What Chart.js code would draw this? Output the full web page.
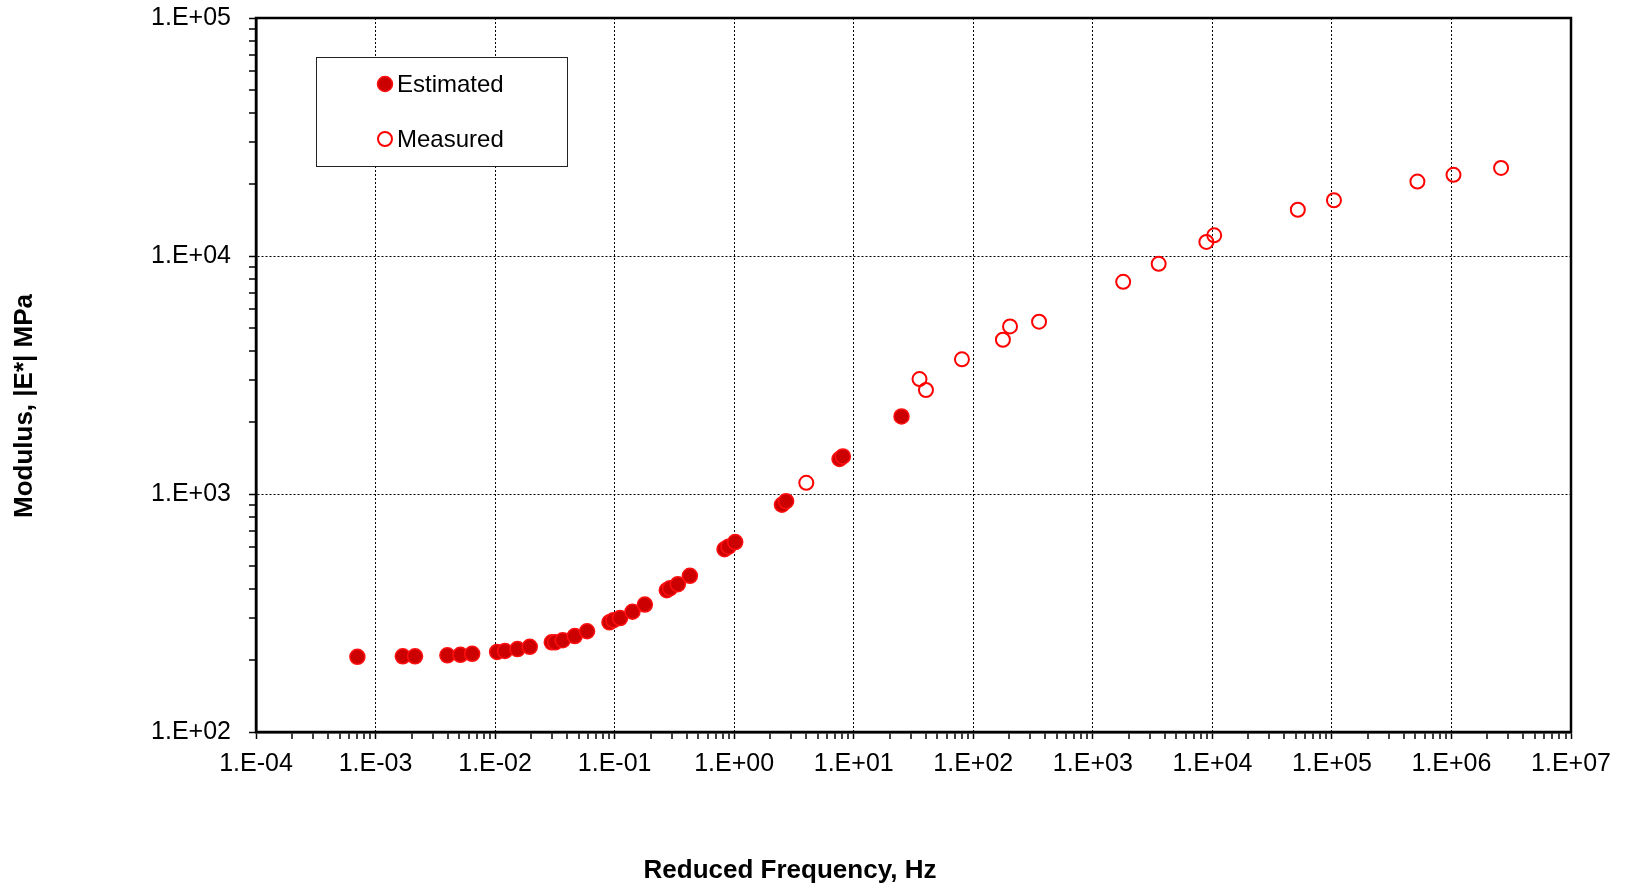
<!DOCTYPE html>
<html lang="en">
<head>
    <meta charset="UTF-8">
    <title>Dynamic Modulus Master Curve</title>
    <style>
        body {
            margin: 0;
            background: #fff;
        }
        #chartBox {
            width: 1630px;
            height: 888px;
        }
    </style>
    <script src="https://cdn.jsdelivr.net/npm/chart.js"></script>
</head>
<body>
    <div id="chartBox">
        <canvas id="modulusChart" width="1630" height="888"></canvas>
    </div>

    <script>
        // values
        const estFreq = [7.05e-4, 1.69e-3, 2.14e-3, 3.99e-3, 5.13e-3, 6.43e-3, 1.04e-2, 1.21e-2, 1.54e-2, 1.95e-2,
            2.98e-2, 3.18e-2, 3.68e-2, 4.64e-2, 5.88e-2, 9.05e-2, 9.78e-2, 0.111, 0.141, 0.179,
            0.273, 0.291, 0.338, 0.426, 0.830, 0.897, 1.02, 2.51, 2.72, 7.61, 8.11, 25.1];
        const estModulus = [207, 208, 208, 210, 211, 213, 217, 219, 223, 228,
            238, 238, 243, 253, 265, 289, 295, 301, 320, 343,
            394, 402, 418, 453, 586, 601, 628, 901, 933, 1403, 1439, 2118];

        const measFreq = [4.01, 35.5, 40.2, 80.4, 177, 203, 355, 1795, 3556, 8909, 10360,
            51860, 1.04e5, 5.19e5, 1.04e6, 2.60e6];
        const measModulus = [1114, 3040, 2735, 3681, 4447, 5059, 5297, 7786, 9269, 11460, 12210,
            15640, 17150, 20550, 21930, 23440];

        const xDecades = [1e-4, 1e-3, 1e-2, 1e-1, 1e0, 1e1, 1e2, 1e3, 1e4, 1e5, 1e6, 1e7];
        const xTickLabels = ['1.E-04', '1.E-03', '1.E-02', '1.E-01', '1.E+00', '1.E+01', '1.E+02',
            '1.E+03', '1.E+04', '1.E+05', '1.E+06', '1.E+07'];
        const yDecades = [1e2, 1e3, 1e4, 1e5];
        const yTickLabels = ['1.E+02', '1.E+03', '1.E+04', '1.E+05'];

        const xTitle = 'Reduced Frequency, Hz';
        const yTitle = 'Modulus, |E*| MPa';

        Chart.defaults.font.family = '"Liberation Sans", Arial, sans-serif';
        Chart.defaults.color = '#000';

        // major ticks at decades, minor at 2..9
        function logTicks(decades) {
            const out = [];
            decades.forEach((d, i) => {
                out.push({ value: d });
                if (i < decades.length - 1) {
                    for (let m = 2; m <= 9; m++) out.push({ value: d * m });
                }
            });
            return out;
        }

        function decadeIndex(decades, v) {
            return decades.findIndex(d => Math.abs(Math.log10(v) - Math.log10(d)) < 1e-6);
        }

        const frameAndTitles = {
            id: 'frameAndTitles',
            afterDraw(chart) {
                const { ctx, chartArea: a } = chart;
                ctx.save();
                ctx.strokeStyle = '#000';
                ctx.lineWidth = 2.5;
                ctx.strokeRect(a.left, a.top, a.right - a.left, a.bottom - a.top);

                ctx.font = 'bold 26px "Liberation Sans", Arial, sans-serif';
                ctx.fillStyle = '#000';
                ctx.textAlign = 'center';
                ctx.textBaseline = 'middle';
                ctx.fillText(xTitle, 790, 871);
                ctx.translate(25, 406);
                ctx.rotate(-Math.PI / 2);
                ctx.fillText(yTitle, 0, 0);
                ctx.restore();
            }
        };

        const boxLegend = {
            id: 'boxLegend',
            afterDatasetsDraw(chart) {
                const { ctx } = chart;
                ctx.save();
                ctx.fillStyle = '#fff';
                ctx.fillRect(316, 57, 252, 110);
                ctx.strokeStyle = '#222';
                ctx.lineWidth = 1;
                ctx.strokeRect(316.5, 57.5, 251, 109);

                chart.data.datasets.forEach((ds, i) => {
                    const y = 84 + i * 55;
                    ctx.beginPath();
                    ctx.arc(385, y, ds.pointRadius, 0, Math.PI * 2);
                    ctx.fillStyle = ds.backgroundColor;
                    ctx.fill();
                    ctx.lineWidth = ds.borderWidth;
                    ctx.strokeStyle = ds.borderColor;
                    ctx.stroke();

                    ctx.fillStyle = '#000';
                    ctx.font = '24px "Liberation Sans", Arial, sans-serif';
                    ctx.textAlign = 'left';
                    ctx.textBaseline = 'middle';
                    ctx.fillText(ds.label, 397, y + 1);
                });
                ctx.restore();
            }
        };

        function axisGrid(decades) {
            return {
                color: '#000',
                lineWidth: ctx => (ctx.tick && decadeIndex(decades, ctx.tick.value) >= 0 ? 1 : 0),
                drawTicks: true,
                tickLength: 7,
                tickColor: '#000',
                tickWidth: 1.5
            };
        }

        new Chart(document.getElementById('modulusChart'), {
            type: 'scatter',
            data: {
                datasets: [{
                    label: 'Estimated',
                    data: estFreq.map((f, i) => ({ x: f, y: estModulus[i] })),
                    backgroundColor: '#CC0000',
                    borderColor: '#FF1010',
                    borderWidth: 1.5,
                    pointRadius: 7.5
                }, {
                    label: 'Measured',
                    data: measFreq.map((f, i) => ({ x: f, y: measModulus[i] })),
                    backgroundColor: 'rgba(255,255,255,0)',
                    borderColor: '#FF0000',
                    borderWidth: 2,
                    pointRadius: 7
                }]
            },
            options: {
                responsive: false,
                animation: false,
                events: [],
                layout: { padding: { top: 18, right: 59, bottom: 0, left: 0 } },
                plugins: {
                    legend: { display: false },
                    tooltip: { enabled: false }
                },
                scales: {
                    x: {
                        type: 'logarithmic',
                        min: 1e-4,
                        max: 1e7,
                        afterBuildTicks: scale => { scale.ticks = logTicks(xDecades); },
                        afterFit: scale => { scale.height = 156; },
                        ticks: {
                            autoSkip: false,
                            maxRotation: 0,
                            padding: 10,
                            font: { size: 25 },
                            callback: v => {
                                const i = decadeIndex(xDecades, v);
                                return i >= 0 ? xTickLabels[i] : '';
                            }
                        },
                        grid: axisGrid(xDecades),
                        border: { display: true, color: '#000', width: 2.5, dash: [2, 2] }
                    },
                    y: {
                        type: 'logarithmic',
                        min: 1e2,
                        max: 1e5,
                        afterBuildTicks: scale => { scale.ticks = logTicks(yDecades); },
                        afterFit: scale => {
                            scale.width = 256;
                            scale.paddingTop = 0;
                            scale.paddingBottom = 0;
                        },
                        ticks: {
                            autoSkip: false,
                            padding: 18,
                            font: { size: 25 },
                            callback: v => {
                                const i = decadeIndex(yDecades, v);
                                return i >= 0 ? yTickLabels[i] : '';
                            }
                        },
                        grid: axisGrid(yDecades),
                        border: { display: true, color: '#000', width: 2.5, dash: [2, 2] }
                    }
                }
            },
            plugins: [boxLegend, frameAndTitles]
        });
    </script>
</body>
</html>
